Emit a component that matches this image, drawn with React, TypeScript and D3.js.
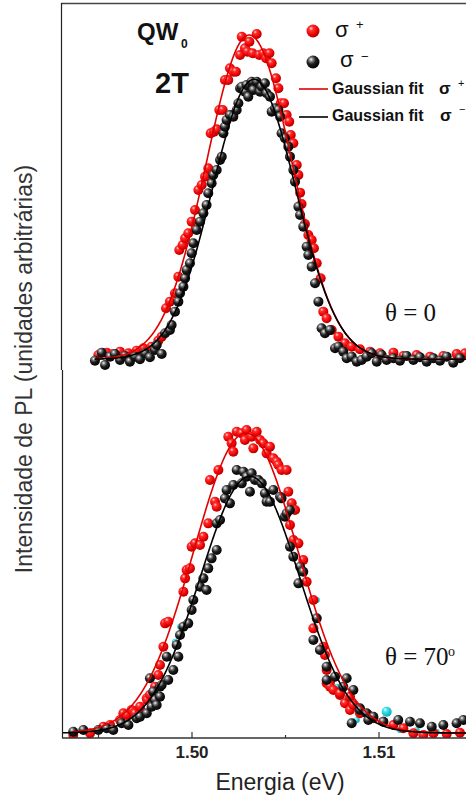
import React from 'react';
import * as d3 from 'd3';

// ---------- DATA (energy in eV, PL intensity in arbitrary units) ----------
const topSigmaPlus: [number, number][] = [
  [1.49499,16],[1.49544,23],[1.49579,19],[1.49615,26],[1.49660,21],[1.49704,29],[1.49740,36],[1.49784,41],[1.49820,59],[1.49838,71],
  [1.49861,156],[1.49882,176],[1.49909,201],[1.49927,251],[1.49932,331],[1.49950,346],[1.49963,366],[1.49980,381],[1.49998,416],[1.50016,451],
  [1.50034,511],[1.50052,526],[1.50070,551],[1.50087,576],[1.50100,681],[1.50118,686],[1.50132,693],[1.50146,751],[1.50164,751],[1.50176,841],
  [1.50194,841],[1.50203,876],[1.50221,866],[1.50235,866],[1.50257,916],[1.50266,971],[1.50283,936],[1.50296,926],[1.50307,956],[1.50324,921],
  [1.50346,979],[1.50360,916],[1.50381,921],[1.50396,906],[1.50414,921],[1.50426,891],[1.50449,846],[1.50462,816],[1.50474,771],[1.50492,771],
  [1.50506,736],[1.50520,716],[1.50528,676],[1.50542,651],[1.50560,586],[1.50569,556],[1.50578,503],[1.50586,469],[1.50604,409],[1.50622,376],
  [1.50640,361],[1.50652,336],[1.50667,291],[1.50688,246],[1.50702,146],[1.50720,126],[1.50747,91],[1.50783,71],[1.50818,51],[1.50854,41],
  [1.50898,33],[1.50952,26],[1.51005,21],[1.51077,23],[1.51130,13],[1.51201,16],[1.51273,11],[1.51344,13],[1.51415,19],[1.51460,21],
];

const topSigmaMinus: [number, number][] = [
  [1.49481,-1],[1.49517,23],[1.49535,-14],[1.49562,11],[1.49588,19],[1.49615,1],[1.49642,13],[1.49668,-4],[1.49695,11],[1.49722,3],
  [1.49749,21],[1.49775,9],[1.49802,31],[1.49811,46],[1.49838,19],[1.49856,81],[1.49882,91],[1.49891,106],[1.49909,146],[1.49927,176],
  [1.49936,201],[1.49954,221],[1.49963,246],[1.49971,271],[1.49989,291],[1.49998,321],[1.50007,351],[1.50025,391],[1.50043,416],[1.50061,441],
  [1.50078,466],[1.50087,501],[1.50105,531],[1.50114,556],[1.50132,571],[1.50150,601],[1.50159,611],[1.50168,681],[1.50176,701],[1.50185,721],
  [1.50203,736],[1.50221,731],[1.50239,751],[1.50248,771],[1.50257,816],[1.50266,821],[1.50283,806],[1.50292,826],[1.50301,791],[1.50319,836],
  [1.50328,811],[1.50346,836],[1.50364,806],[1.50373,821],[1.50390,831],[1.50399,801],[1.50417,791],[1.50426,746],[1.50444,756],[1.50462,751],
  [1.50471,731],[1.50479,681],[1.50497,666],[1.50515,641],[1.50524,611],[1.50542,571],[1.50551,536],[1.50569,461],[1.50578,436],[1.50595,401],
  [1.50613,341],[1.50622,316],[1.50640,281],[1.50658,231],[1.50676,176],[1.50693,96],[1.50711,81],[1.50738,91],[1.50765,36],[1.50783,41],
  [1.50809,26],[1.50827,6],[1.50854,11],[1.50881,-4],[1.50907,1],[1.50934,11],[1.50961,21],[1.50988,-4],[1.51014,16],[1.51041,1],
  [1.51077,6],[1.51112,-1],[1.51148,13],[1.51184,1],[1.51219,9],[1.51255,-4],[1.51291,6],[1.51326,-1],[1.51362,11],[1.51397,-7],[1.51433,6],
];

const bottomSigmaPlus: [number, number][] = [
  [1.49365,-6],[1.49455,-1],[1.49526,19],[1.49562,24],[1.49615,39],[1.49633,59],[1.49651,54],[1.49677,69],[1.49695,59],[1.49722,69],
  [1.49722,79],[1.49758,104],[1.49761,99],[1.49775,114],[1.49793,124],[1.49802,139],[1.49820,174],[1.49829,204],[1.49847,259],[1.49856,329],
  [1.49873,334],[1.49954,424],[1.49963,464],[1.49971,489],[1.49989,494],[1.49998,559],[1.50016,569],[1.50043,564],[1.50061,589],[1.50087,629],
  [1.50096,759],[1.50123,694],[1.50132,679],[1.50141,789],[1.50194,889],[1.50212,869],[1.50221,844],[1.50239,904],[1.50266,899],[1.50283,879],
  [1.50292,909],[1.50319,889],[1.50328,854],[1.50346,904],[1.50364,879],[1.50381,869],[1.50399,839],[1.50417,859],[1.50435,824],[1.50453,814],
  [1.50462,804],[1.50479,789],[1.50506,789],[1.50515,724],[1.50533,689],[1.50551,669],[1.50524,624],[1.50542,579],[1.50569,569],[1.50595,519],
  [1.50613,454],[1.50649,399],[1.50649,314],[1.50702,259],[1.50711,234],[1.50720,189],[1.50720,149],[1.50738,154],[1.50738,139],[1.50756,129],
  [1.50791,114],[1.50791,119],[1.50818,89],[1.50845,69],[1.50845,109],[1.50863,84],[1.50898,59],[1.50943,54],[1.50970,44],[1.51023,34],
  [1.51077,24],[1.51130,14],[1.51184,-1],[1.51237,-6],[1.51291,-1],[1.51362,-3],[1.51433,1],
];

const bottomSigmaMinus: [number, number][] = [
  [1.49365,4],[1.49419,9],[1.49499,9],[1.49544,14],[1.49579,9],[1.49624,29],[1.49660,24],[1.49704,44],[1.49722,49],[1.49758,59],
  [1.49775,164],[1.49784,79],[1.49793,124],[1.49802,99],[1.49811,84],[1.49829,109],[1.49829,139],[1.49838,144],[1.49865,229],[1.49873,159],
  [1.49900,189],[1.49918,264],[1.49927,229],[1.49936,294],[1.49954,319],[1.49980,329],[1.49998,369],[1.50007,399],[1.50043,439],[1.50061,464],
  [1.50078,429],[1.50087,494],[1.50105,524],[1.50132,549],[1.50132,629],[1.50150,639],[1.50176,704],[1.50185,729],[1.50203,689],[1.50221,744],
  [1.50239,789],[1.50266,749],[1.50275,784],[1.50292,769],[1.50310,724],[1.50319,779],[1.50337,759],[1.50355,759],[1.50373,749],[1.50390,719],
  [1.50399,694],[1.50417,694],[1.50435,729],[1.50471,709],[1.50479,704],[1.50497,649],[1.50506,659],[1.50524,669],[1.50524,559],[1.50542,529],
  [1.50569,449],[1.50578,499],[1.50595,484],[1.50649,279],[1.50667,344],[1.50684,249],[1.50720,199],[1.50720,159],[1.50765,169],[1.50809,139],
  [1.50827,164],[1.50854,29],[1.50863,129],[1.50898,74],[1.50898,69],[1.50934,59],[1.50943,39],[1.50970,49],[1.51023,34],
  [1.51103,39],[1.51166,34],[1.51219,29],[1.51282,19],[1.51344,24],[1.51415,29],[1.51451,39],
];

const bottomExtra: [number, number][] = [
  [1.50096,629],[1.49936,319],[1.49909,274],[1.50667,399],[1.50774,139],[1.50809,99],
  [1.49615,29],[1.49722,44],[1.50881,39],[1.51112,9],[1.51201,9],[1.51308,4],
];
const bottomExtraLarge: [number, number][] = [[1.51041,64]];

// Gaussian fit parameters: [amplitude, centre (eV), sigma (eV), offset, first energy drawn]
const fitTopPlus = [973, 1.50306, 0.00229, 3, 1.4949];
const fitTopMinus = [840, 1.50332, 0.00224, 3, 1.4948];
const fitBottomPlus = [900, 1.50288, 0.00279, 0, 1.4936];
const fitBottomMinus = [770, 1.50310, 0.00266, 0, 1.4931];

const majorTicks = [1.50, 1.51];
const minorTicks = [1.495, 1.505, 1.515];

// ---------- LAYOUT ----------
const W = 466, H = 800;
const x = d3.scaleLinear().domain([1.50, 1.51]).range([192, 379]);
const yTop = d3.scaleLinear().domain([0, 1000]).range([360.3, 27]);
const yBot = d3.scaleLinear().domain([0, 1000]).range([733, 399.7]);

const gauss = (p: number[]) => (e: number) => p[0] * Math.exp(-((e - p[1]) ** 2) / (2 * p[2] * p[2])) + p[3];
const fitPath = (p: number[], y: d3.ScaleLinear<number, number>) =>
  d3.line<number>().x(e => x(e)).y(e => y(gauss(p)(e)))(d3.range(p[4], 1.5180, 0.00004)) || '';

const R = 5;
const SERIF = "'Liberation Serif', 'Times New Roman', serif";

export default function App() {
  const dots = (data: [number, number][], y: d3.ScaleLinear<number, number>, grad: string, r = R) =>
    data.map((d, i) => <circle key={i} cx={x(d[0])} cy={y(d[1])} r={r} fill={`url(#${grad})`} />);

  return (
    <svg width={W} height={H} style={{ position: 'absolute', left: 0, top: 0, background: '#fff' }}
      fontFamily="Arial, 'Liberation Sans', Helvetica, sans-serif">
      <defs>
        <radialGradient id="gR" cx="0.38" cy="0.35" r="0.7" fx="0.35" fy="0.3">
          <stop offset="0" stopColor="#ffd6d6" />
          <stop offset="0.25" stopColor="#ff3030" />
          <stop offset="0.7" stopColor="#e80000" />
          <stop offset="1" stopColor="#a00000" />
        </radialGradient>
        <radialGradient id="gK" cx="0.38" cy="0.35" r="0.7" fx="0.35" fy="0.3">
          <stop offset="0" stopColor="#ffffff" />
          <stop offset="0.2" stopColor="#8a8a8a" />
          <stop offset="0.5" stopColor="#1e1e1e" />
          <stop offset="1" stopColor="#000000" />
        </radialGradient>
        <radialGradient id="gC" cx="0.38" cy="0.35" r="0.7" fx="0.35" fy="0.3">
          <stop offset="0" stopColor="#e8ffff" />
          <stop offset="0.3" stopColor="#40e4ec" />
          <stop offset="1" stopColor="#00a8b8" />
        </radialGradient>
        <clipPath id="clipTop"><rect x={62} y={3} width={500} height={368} /></clipPath>
        <clipPath id="clipBot"><rect x={63} y={371} width={500} height={367} /></clipPath>
      </defs>

      {/* top panel */}
      <g clipPath="url(#clipTop)">
        {dots(topSigmaPlus, yTop, 'gR')}
        {dots(topSigmaMinus, yTop, 'gK')}
        <path d={fitPath(fitTopPlus, yTop)} fill="none" stroke="#e00000" strokeWidth={1.6} />
        <path d={fitPath(fitTopMinus, yTop)} fill="none" stroke="#000" strokeWidth={1.6} />
      </g>
      <line x1={61} x2={W} y1={3.5} y2={3.5} stroke="#444" strokeWidth={1.5} />
      <line x1={61.5} x2={61.5} y1={3} y2={370} stroke="#222" strokeWidth={1.2} />

      {/* bottom panel */}
      <g clipPath="url(#clipBot)">
        {dots(bottomExtra, yBot, 'gC', 3)}
        {dots(bottomSigmaPlus, yBot, 'gR')}
        {dots(bottomSigmaMinus, yBot, 'gK')}
        {dots(bottomExtraLarge, yBot, 'gC', 5)}
        <path d={fitPath(fitBottomPlus, yBot)} fill="none" stroke="#e00000" strokeWidth={1.6} />
        <path d={fitPath(fitBottomMinus, yBot)} fill="none" stroke="#000" strokeWidth={1.6} />
      </g>
      <line x1={62.5} x2={62.5} y1={370} y2={738} stroke="#222" strokeWidth={1.2} />
      <line x1={62} x2={W} y1={738} y2={738} stroke="#333" strokeWidth={1.6} />
      {majorTicks.map(t => <line key={t} x1={x(t)} x2={x(t)} y1={738} y2={732} stroke="#333" strokeWidth={1.2} />)}
      {minorTicks.map(t => <line key={t} x1={x(t)} x2={x(t)} y1={738} y2={735} stroke="#333" strokeWidth={1.2} />)}
      {majorTicks.map(t => (
        <text key={t} x={x(t)} y={758} textAnchor="middle" fontSize={17} fontWeight="bold" fill="#222">{d3.format('.2f')(t)}</text>
      ))}

      {/* axis titles */}
      <text x={280} y={790} textAnchor="middle" fontSize={23} fill="#222">Energia (eV)</text>
      <text transform="translate(32,369) rotate(-90)" textAnchor="middle" fontSize={23} fill="#333">
        Intensidade de PL (unidades arbitrárias)
      </text>

      {/* annotations */}
      <text x={137} y={40} fontSize={24} fontWeight="bold" fill="#111">QW</text>
      <text x={181} y={48} fontSize={12} fontWeight="bold" fill="#111">0</text>
      <text x={155} y={93} fontSize={29} fontWeight="bold" fill="#111">2T</text>
      <text x={385} y={321} fontSize={25} fontFamily={SERIF} fill="#111">θ = 0</text>
      <text x={385} y={665} fontSize={25} fontFamily={SERIF} fill="#111">θ = 70</text>
      <text x={448} y={656} fontSize={14} fontFamily={SERIF} fill="#111">o</text>

      {/* legend */}
      <circle cx={313} cy={31} r={6.5} fill="url(#gR)" />
      <text x={335} y={37} fontSize={22} fill="#111">σ</text>
      <text x={356} y={29} fontSize={13} fill="#111">+</text>
      <circle cx={313} cy={62} r={6.5} fill="url(#gK)" />
      <text x={340} y={67} fontSize={22} fill="#111">σ</text>
      <text x={361} y={61} fontSize={13} fill="#111">−</text>
      <line x1={299} x2={328} y1={89} y2={89} stroke="#e00000" strokeWidth={1.6} />
      <text x={332} y={94} fontSize={16} fontWeight="bold" fill="#111">Gaussian fit</text>
      <text x={439} y={94} fontSize={17} fontWeight="bold" fill="#111">σ</text>
      <text x={458} y={87} fontSize={11} fill="#111">+</text>
      <line x1={299} x2={328} y1={117} y2={117} stroke="#000" strokeWidth={1.6} />
      <text x={332} y={121} fontSize={16} fontWeight="bold" fill="#111">Gaussian fit</text>
      <text x={440} y={121} fontSize={17} fontWeight="bold" fill="#111">σ</text>
      <text x={459} y={113} fontSize={11} fill="#111">−</text>
    </svg>
  );
}
